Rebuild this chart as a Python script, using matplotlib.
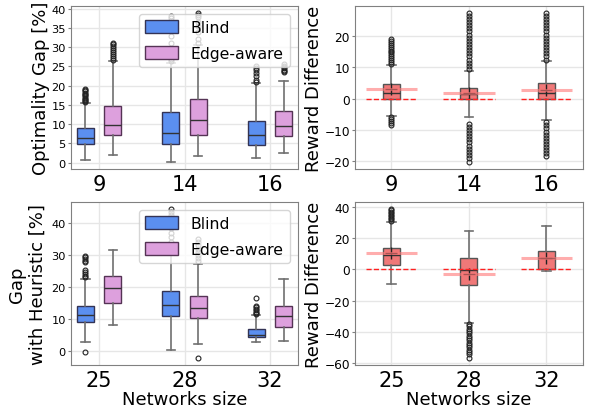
import matplotlib
matplotlib.use('Agg')
import matplotlib.pyplot as plt
from matplotlib.patches import Patch
import numpy as np

# ---- data (box stats per group) ----
top_sizes = ['9', '14', '16']
bot_sizes = ['25', '28', '32']

# order: q1, med, q3, whislo, whishi
gap_blind = [(4.8, 6.45, 9.0, 0.8, 15.4), (4.8, 7.7, 13.3, 0.3, 26.0), (4.7, 7.2, 10.8, 1.3, 20.6)]
gap_edge = [(7.1, 9.8, 14.7, 2.0, 26.3), (7.3, 11.1, 16.6, 1.7, 30.5), (7.0, 9.5, 13.5, 2.6, 21.2)]
gap_blind_fl = [[15.7, 16.0, 16.3, 16.6, 16.9, 17.2, 17.5, 17.8, 18.2, 18.6, 19.0, 19.2],
                [26.5, 27.0, 27.5, 29.0, 31.0, 33.0, 36.5, 37.5, 38.1],
                [21.0, 21.5, 22.5, 23.3, 24.0, 24.5, 25.2]]
gap_edge_fl = [[26.8, 27.3, 27.8, 28.3, 28.8, 29.3, 29.8, 30.3, 30.8, 31.0],
               [31.0, 32.0, 34.0, 35.5, 36.5, 37.8, 38.4, 38.8],
               [23.6, 23.9, 24.2, 24.5, 24.8, 25.2, 25.6]]

heur_blind = [(9.0, 11.3, 14.2, 2.8, 22.4), (10.9, 14.5, 18.8, 0.5, 30.5), (4.3, 5.1, 7.0, 2.8, 11.2)]
heur_edge = [(14.9, 19.8, 23.5, 8.3, 31.7), (10.2, 13.5, 17.1, 2.1, 27.3), (7.4, 10.9, 14.2, 3.3, 22.4)]
heur_blind_fl = [[-0.3, 23.0, 23.5, 24.2, 24.8, 25.3, 27.8, 28.3, 28.8, 29.3, 29.8],
                 [31.0, 32.5, 34.0, 35.5, 37.0, 38.5, 40.0, 41.5, 42.5, 43.5, 44.3],
                 [11.5, 11.9, 12.3, 12.8, 13.3, 13.8, 14.0, 16.5]]
heur_edge_fl = [[],
                [-2.0, 28.0, 29.0, 30.0, 31.0, 32.0, 33.0, 34.0, 35.0],
                []]

# reward difference: q1, med, q3, whislo, whishi, mean
rew_top = [(0.0, 1.9, 4.65, -5.5, 10.8, 2.96), (0.0, 1.4, 3.4, -5.8, 8.8, 1.9), (0.0, 1.8, 4.9, -6.9, 12.0, 2.75)]
rew_top_fl = [[11.2, 11.8, 12.4, 13.0, 13.6, 14.2, 14.8, 15.4, 16.0, 16.6, 17.2, 17.8, 18.4, 19.0,
               -6.0, -6.6, -7.2, -7.8, -8.5],
              [9.5, 10.5, 11.5, 12.5, 13.5, 14.5, 15.5, 16.5, 17.5, 18.5, 19.5, 20.5, 21.5, 22.5, 23.5,
               24.5, 25.5, 26.3, 27.3,
               -8.0, -9.0, -10.0, -11.0, -12.0, -13.0, -14.0, -15.0, -16.0, -17.0, -18.0, -19.0, -20.1],
              [12.5, 13.5, 14.5, 15.5, 16.5, 17.5, 18.5, 19.5, 20.5, 21.5, 22.5, 23.5, 24.5, 25.5, 26.3, 27.3,
               -7.5, -8.5, -9.5, -10.5, -11.5, -12.5, -13.5, -14.5, -15.5, -16.5, -17.5, -18.2]]
rew_bot = [(2.5, 9.1, 14.0, -9.5, 30.3, 10.4), (-9.7, -0.4, 7.0, -34.1, 24.6, -3.2), (0.0, 7.2, 11.9, -0.8, 27.9, 7.6)]
rew_bot_fl = [[31.0, 32.0, 33.0, 34.0, 35.0, 36.0, 37.0, 38.0, 38.5],
              [-35.0, -36.5, -38.0, -39.5, -41.0, -42.5, -44.0, -45.5, -47.0, -48.5, -50.0, -51.5, -53.0,
               -54.5, -56.5],
              []]

BLUE = '#5b8ff0'
PINK = '#dda0dd'
RED = '#f07878'

def stats(vals, fliers, mean=None):
    q1, med, q3, lo, hi = vals[:5]
    d = dict(q1=q1, med=med, q3=q3, whislo=lo, whishi=hi, fliers=fliers)
    if len(vals) > 5:
        d['mean'] = vals[5]
    return d

box_kw = dict(patch_artist=True,
              whiskerprops=dict(color='#707070', lw=1.2),
              capprops=dict(color='#707070', lw=1.2),
              medianprops=dict(color='#333333', lw=1),
              flierprops=dict(marker='o', markersize=3.5, markerfacecolor='none',
                              markeredgecolor='#222222', markeredgewidth=0.8))

def style(ax, labels, yticks, labx, ysize):
    ax.set_xticks([1, 2, 3])
    ax.set_xticklabels(labels, fontsize=15)
    ax.set_yticks(yticks)
    ax.tick_params(axis='y', labelsize=ysize, length=2.5, pad=1.2, color='#808080')
    ax.tick_params(axis='x', length=0)
    ax.grid(True, color='#e6e6e6', lw=1)
    ax.set_axisbelow(True)
    for s in ax.spines.values():
        s.set_color('#808080')
    ax.yaxis.set_label_coords(labx, 0.5)

def pair_panel(ax, blind, edge, bfl, efl, labels, ylabel, yticks, labx):
    pos = np.array([1, 2, 3])
    b = ax.bxp([stats(v, f) for v, f in zip(blind, bfl)], positions=pos - 0.16, widths=0.2, **box_kw)
    e = ax.bxp([stats(v, f) for v, f in zip(edge, efl)], positions=pos + 0.16, widths=0.2, **box_kw)
    for p in b['boxes']:
        p.set_facecolor(BLUE); p.set_edgecolor('#333355'); p.set_linewidth(1)
    for p in e['boxes']:
        p.set_facecolor(PINK); p.set_edgecolor('#553355'); p.set_linewidth(1)
    ax.set_xlim(0.67, 3.33)
    ax.set_ylabel(ylabel, fontsize=13)
    style(ax, labels, yticks, labx, 8.2)
    handles = [Patch(facecolor=BLUE, edgecolor='#333355', label='Blind'),
               Patch(facecolor=PINK, edgecolor='#553355', label='Edge-aware')]
    leg = ax.legend(handles=handles, loc='upper right', fontsize=11.3, framealpha=0.8,
                    handlelength=2.1, handleheight=0.85, labelspacing=0.7)
    leg.set_zorder(10)

def reward_panel(ax, rew, fl, labels, yticks):
    pos = np.array([1, 2, 3])
    r = ax.bxp([stats(v, f) for v, f in zip(rew, fl)], positions=pos, widths=0.22,
               showmeans=True, meanprops=dict(marker='+', markersize=9, markeredgecolor='#222222'),
               **box_kw)
    for p in r['boxes']:
        p.set_facecolor(RED); p.set_edgecolor('#555555'); p.set_linewidth(1)
    means = [v[5] for v in rew]
    ax.hlines(means, pos - 0.33, pos + 0.33, colors='#ff7777', alpha=0.6, lw=2.2, zorder=4)
    ax.hlines([0, 0, 0], pos - 0.33, pos + 0.33, colors='#ff2020', linestyles='--', lw=1, zorder=5)
    ax.set_xlim(0.53, 3.47)
    ax.set_ylabel('Reward Difference', fontsize=13)
    style(ax, labels, yticks, -0.14, 8.7)

fig = plt.figure(figsize=(5.89, 4.14), dpi=100)
ax1 = fig.add_axes([0.1205, 0.5894, 0.3855, 0.394])
ax2 = fig.add_axes([0.6027, 0.5894, 0.387, 0.394])
ax3 = fig.add_axes([0.1205, 0.116, 0.3855, 0.394])
ax4 = fig.add_axes([0.6027, 0.116, 0.387, 0.394])

pair_panel(ax1, gap_blind, gap_edge, gap_blind_fl, gap_edge_fl, top_sizes, 'Optimality Gap [%]',
           [0, 5, 10, 15, 20, 25, 30, 35, 40], -0.093)
reward_panel(ax2, rew_top, rew_top_fl, top_sizes, [-20, -10, 0, 10, 20])
pair_panel(ax3, heur_blind, heur_edge, heur_blind_fl, heur_edge_fl, bot_sizes, 'Gap\nwith Heuristic [%]',
           [0, 10, 20, 30, 40], -0.106)
reward_panel(ax4, rew_bot, rew_bot_fl, bot_sizes, [-60, -40, -20, 0, 20, 40])
ax3.set_xlabel('Networks size', fontsize=13, labelpad=0)
ax4.set_xlabel('Networks size', fontsize=13, labelpad=0)

fig.savefig('out.png', dpi=100)
